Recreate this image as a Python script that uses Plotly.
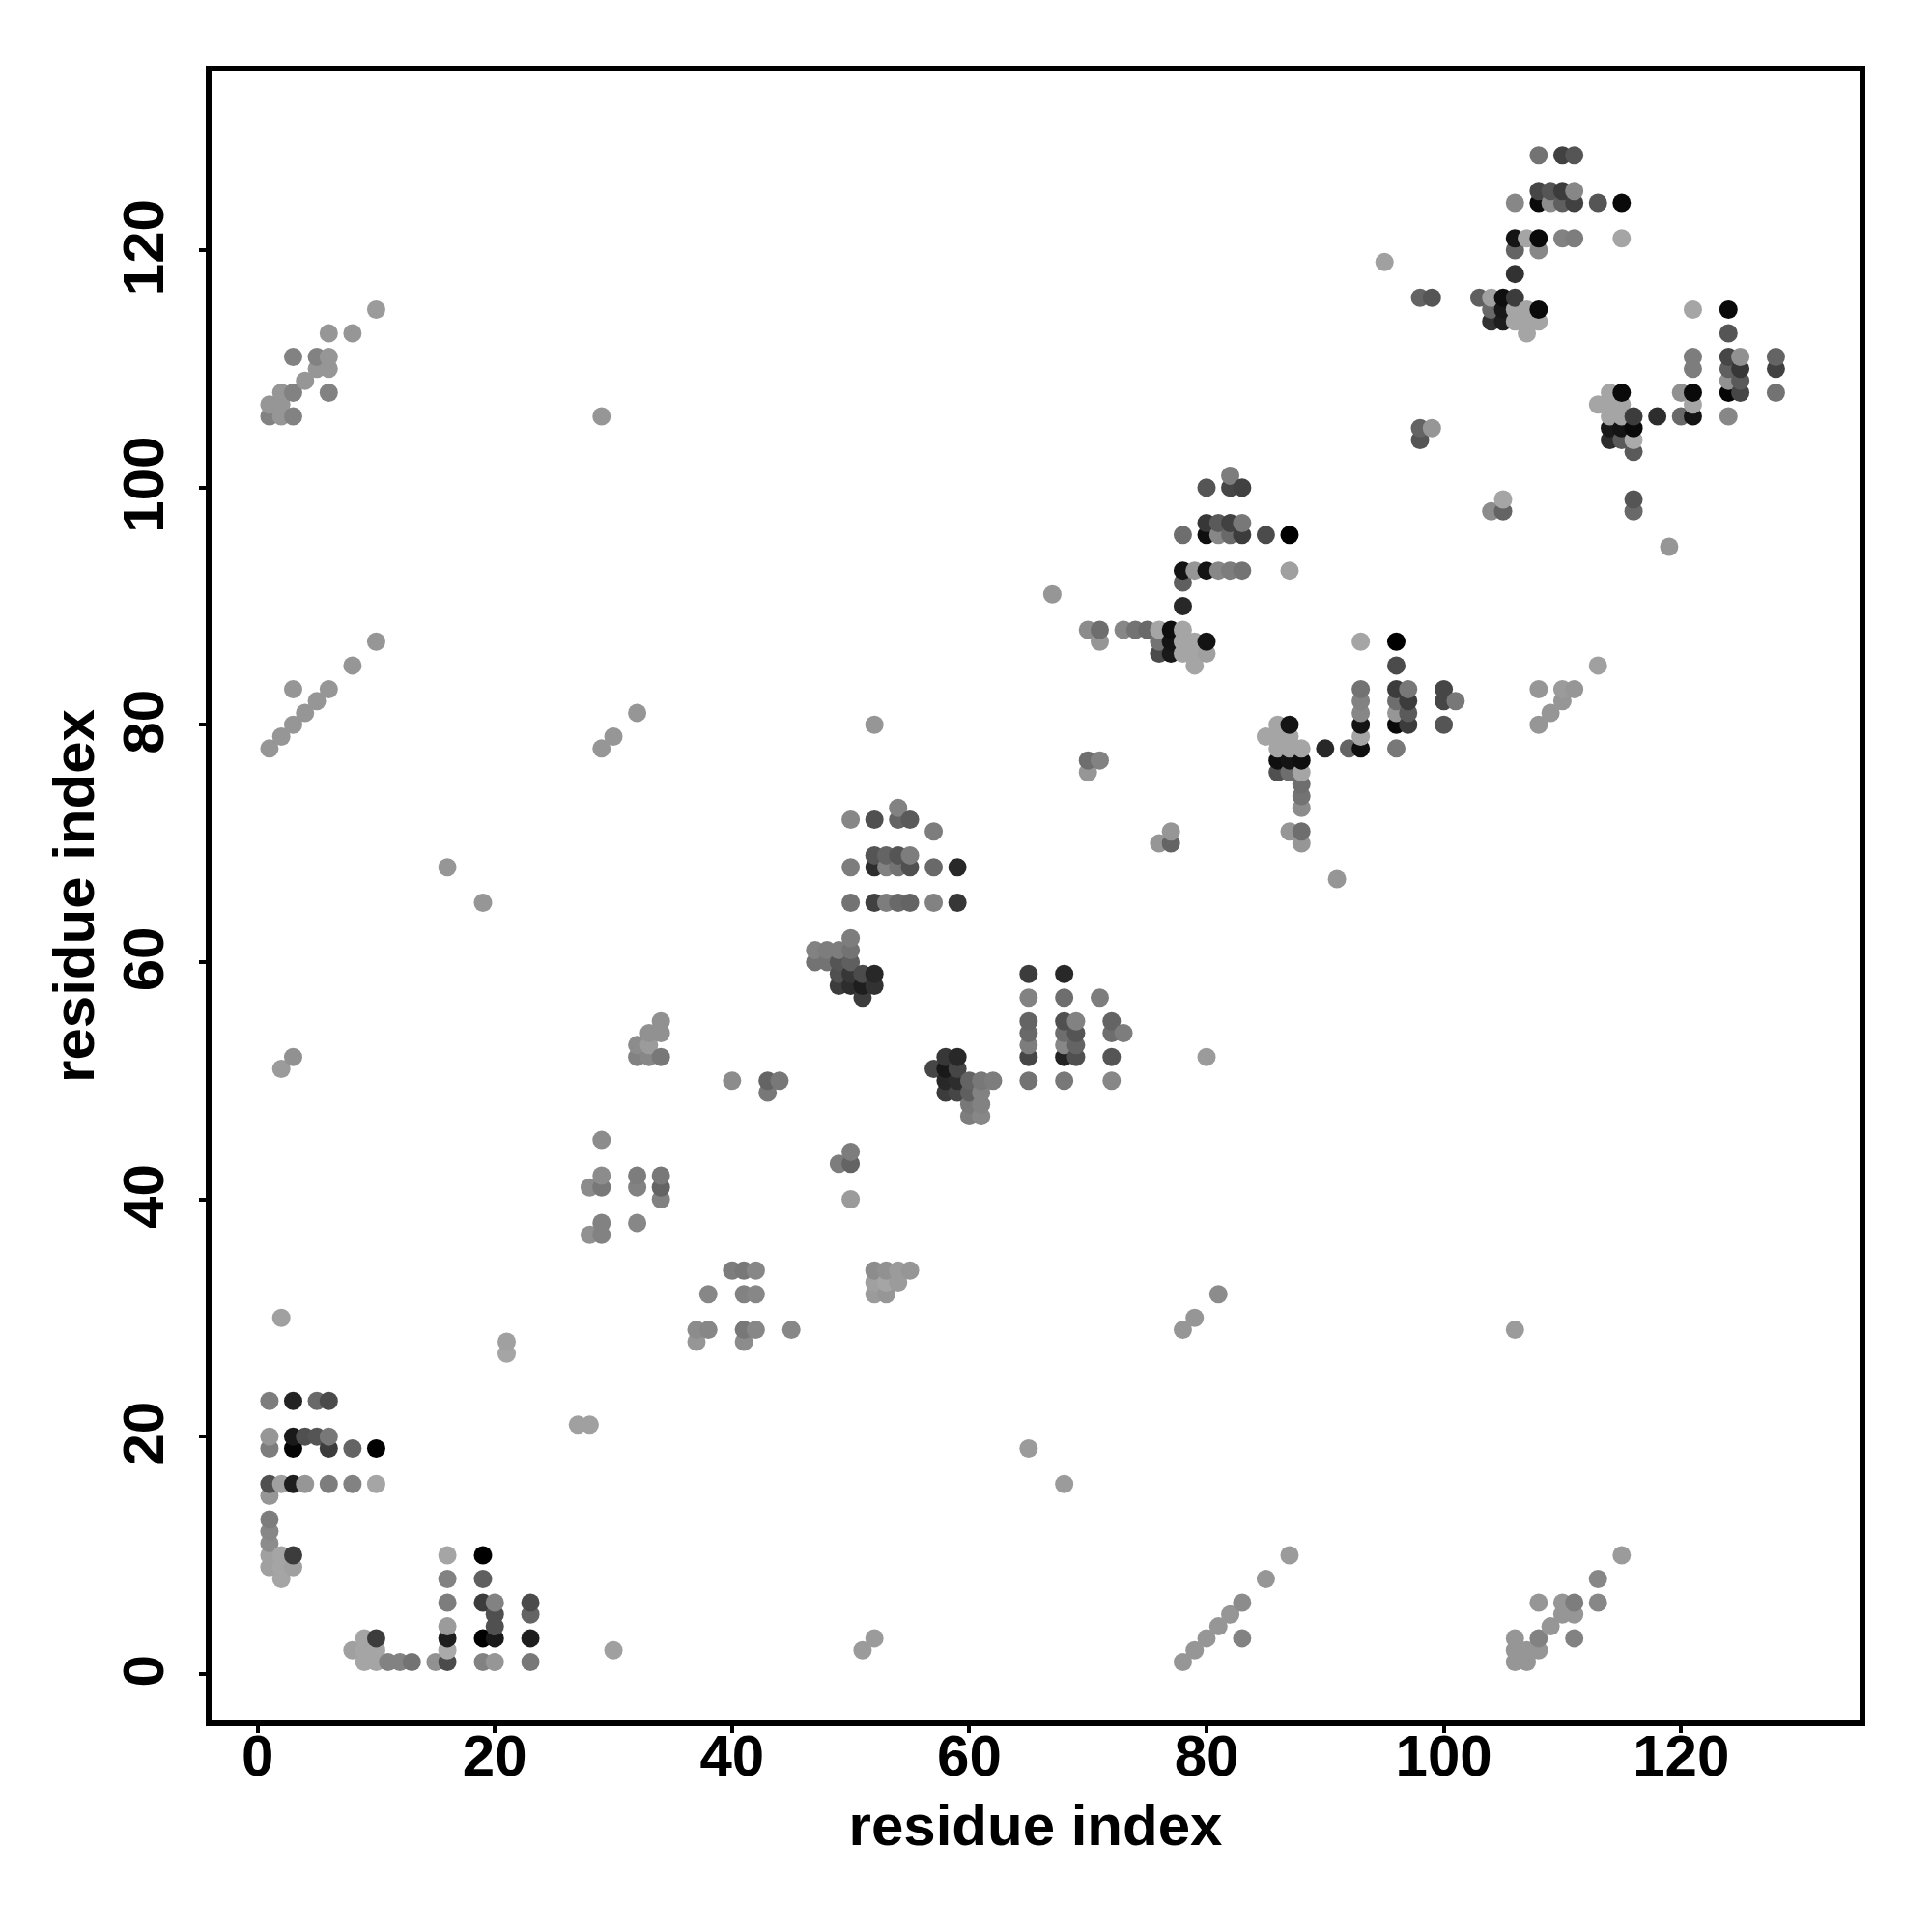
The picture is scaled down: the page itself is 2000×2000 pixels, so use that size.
import plotly.graph_objects as go

residue_i = [
 2,21,21,1,3,5,6,1,1,3,3,4,5,6,6,8,10,27,28,1,2,3,4,6,8,10,1,1,1,1,1,2,3,1,2,3,2,
 16,19,16,19,16,19,20,20,20,23,23,16,16,19,20,23,16,16,15,19,20,23,30,8,9,10,9,10,9,10,11,12,13,
 78,79,80,81,82,83,83,85,87,
 106,106,106,107,107,108,108,108,109,110,110,111,111,111,113,113,115,
 51,52,65,68,106,78,79,81,
 37,37,38,38,40,41,42,41,42,41,41,42,45,
 52,53,54,55,52,53,54,52,53,
 29,28,29,29,28,29,29,32,32,32,34,34,34,
 49,50,50,50,40,43,44,43,2,3,80,
 32,33,34,34,32,33,34,33,
 57,58,59,58,59,58,59,58,59,60,60,60,60,61,61,61,61,62,
 65,68,65,68,71,65,65,65,65,65,68,69,68,69,68,69,68,69,68,72,72,73,72,72,
 50,52,54,54,55,57,50,52,53,54,55,52,53,54,55,57,59,50,52,53,54,55,57,59,
 50,47,48,49,50,47,48,49,50,49,50,51,52,49,50,51,52,51,
 16,19,1,2,3,4,5,6,3,8,10,29,30,32,52,
 1,2,3,1,2,2,3,4,5,5,6,6,3,6,6,8,10,29,67,91,
 82,80,82,83,78,80,81,82,83,80,81,82,83,85,87,78,79,80,81,82,83,87,78,78,
 70,71,71,73,74,75,76,76,76,77,77,77,78,78,78,79,79,79,80,80,
 93,96,96,93,93,93,93,93,93,92,90,96,97,96,97,96,97,96,97,96,100,100,101,100,
 85,86,87,86,87,86,87,88,86,87,88,86,87,88,88,88,88,87,88,88,
 70,70,71,76,77,77,
 108,110,111,113,110,109,108,105,104,105,116,116,98,98,99,
 108,110,111,106,108,109,110,111,108,109,110,111,113,115,106,107,108,110,111,115,106,108,106,
 103,104,105,106,104,105,106,107,108,104,105,106,107,108,107,98,99,95,119,
 121,124,124,121,121,124,125,124,125,124,125,124,125,128,128,128,120,121,121,120,121,124,118,
 113,114,115,114,115,114,115,116,114,115,116,114,115,116,116,
]
residue_j = [
 30,28,27,23,23,23,23,20,19,20,19,20,20,20,19,19,19,21,21,16,16,16,16,16,16,16,15,13,12,11,10,10,10,9,9,9,8,
 10,10,8,8,6,6,6,5,4,6,5,4,3,3,3,3,2,1,1,1,1,1,2,2,3,3,2,2,1,1,1,1,1,
 1,2,3,4,5,6,3,8,10,
 3,2,1,2,1,3,2,6,4,5,6,6,5,3,8,6,10,
 2,3,19,16,29,29,30,32,
 28,29,29,32,34,34,34,32,32,29,28,29,29,
 34,34,34,34,33,33,33,32,32,
 45,41,42,41,37,38,37,42,41,38,42,41,40,
 43,43,44,40,50,50,50,49,51,52,52,
 53,54,55,54,52,52,52,53,
 51,52,52,51,51,50,50,49,49,50,49,48,47,50,49,48,47,50,
 59,59,57,57,57,55,54,53,52,50,55,55,54,54,53,53,52,52,50,55,54,54,52,50,
 72,72,73,72,72,71,68,69,69,69,69,68,68,68,68,68,68,65,65,65,65,65,65,65,
 62,61,61,61,61,60,60,60,60,59,59,59,59,58,58,58,58,57,
 68,65,78,79,80,81,82,83,83,85,87,78,79,81,80,
 106,106,106,107,107,108,108,109,110,111,111,110,111,108,113,113,115,106,91,67,
 101,100,100,100,96,97,97,97,97,96,96,96,96,96,96,93,93,93,93,93,93,93,92,90,
 88,88,87,88,88,88,88,87,86,88,87,86,88,87,86,87,86,85,87,86,
 87,87,85,83,82,81,80,79,78,78,78,83,83,82,82,81,81,80,80,78,83,82,82,80,
 79,80,80,79,79,78,78,78,77,77,77,76,76,76,75,74,73,71,71,70,
 76,77,77,70,70,71,
 83,83,83,85,82,81,80,99,98,98,99,98,105,104,105,
 128,128,128,124,125,125,125,125,124,124,124,124,124,124,121,121,121,121,121,121,120,120,118,
 116,116,116,116,115,115,115,115,115,114,114,114,114,114,113,116,116,119,95,
 115,115,113,111,110,111,111,110,110,109,109,108,108,111,110,108,108,108,107,106,106,106,106,
 107,108,108,107,107,106,106,106,105,105,105,104,104,104,103,
]
gray_level = [
 160,160,165,125,35,105,75,150,125,25,5,80,85,120,60,100,0,160,160,80,160,30,150,125,130,165,150,125,135,140,160,165,60,160,165,160,165,
 165,0,130,95,125,60,130,80,80,75,100,155,30,0,25,30,170,75,145,130,150,120,160,160,165,60,165,165,165,165,130,130,115,
 150,150,150,150,150,140,130,150,155,
 150,150,150,150,150,130,150,150,150,150,150,125,150,130,135,135,155,
 155,155,155,155,155,150,150,140,
 150,140,135,135,125,120,135,130,135,120,140,135,135,
 140,145,155,150,160,165,155,155,150,
 140,140,140,120,145,130,130,125,130,135,120,100,130,
 125,100,125,155,140,100,120,120,155,145,155,
 140,145,145,145,130,135,120,155,
 70,55,40,25,70,40,45,60,70,100,95,120,125,120,130,130,135,125,
 60,40,130,110,125,100,105,125,70,115,80,130,110,85,135,100,35,80,120,100,110,125,85,135,
 135,80,130,100,90,125,125,85,100,85,125,45,130,115,80,105,40,115,65,125,105,100,130,55,
 125,130,125,125,115,115,115,85,95,80,55,75,40,60,45,30,50,60,
 150,150,150,150,150,150,150,150,150,150,150,150,150,150,150,
 130,150,130,150,150,150,130,150,150,130,150,150,130,130,150,150,155,150,150,150,
 125,85,70,65,110,55,90,65,120,15,135,105,60,75,0,20,150,20,135,125,115,160,95,40,
 140,110,150,135,115,105,165,115,75,15,20,25,165,165,165,165,165,165,20,160,
 165,0,75,115,130,135,20,165,15,100,40,60,120,110,60,150,90,10,60,120,70,70,120,85,
 165,165,20,165,165,165,165,165,15,20,15,80,110,165,110,115,140,150,110,150,
 150,110,130,150,100,150,
 150,155,150,160,150,150,150,165,140,100,85,105,100,85,150,
 115,65,85,135,70,85,60,135,10,140,95,65,85,10,20,165,10,130,125,165,100,135,50,
 95,160,15,60,105,25,165,165,10,50,30,165,165,165,165,100,85,160,150,
 165,10,85,125,125,70,145,95,55,145,90,5,70,100,65,115,145,10,165,105,20,135,45,
 165,165,10,165,165,165,165,60,25,20,10,45,90,170,90,
]

order = sorted(range(len(residue_i)), key=lambda k: (residue_i[k], residue_j[k]))
fig = go.Figure(go.Scatter(
    x=[residue_i[k] for k in order],
    y=[residue_j[k] for k in order],
    mode="markers",
    marker=dict(size=19, color=[gray_level[k] for k in order],
                colorscale=[[0, "#000000"], [1, "#ffffff"]], cmin=0, cmax=255,
                showscale=False, line=dict(width=0)),
    showlegend=False, hoverinfo="skip",
))
axis_font = dict(family="Liberation Sans", size=60, color="black", weight="bold")
axis_common = dict(
    tickmode="array", tickvals=[0, 20, 40, 60, 80, 100, 120],
    ticktext=["0", "20", "40", "60", "80", "100", "120"],
    ticks="outside", ticklen=7, tickwidth=4, tickcolor="black",
    showline=True, linewidth=6, linecolor="black", mirror=True,
    showgrid=False, zeroline=False,
    tickfont=axis_font,
)
fig.update_xaxes(range=[-3.88, 135.05], ticklabelstandoff=-28,
                 title=dict(text="residue index", font=axis_font, standoff=20), **axis_common)
fig.update_yaxes(range=[-3.93, 135.07], tickangle=-90, ticklabelstandoff=13, ticklabelshift=6,
                 title=dict(text="residue index", font=axis_font, standoff=0), **axis_common)
fig.update_layout(width=2000, height=2000, autosize=False, plot_bgcolor="white", paper_bgcolor="white",
                  margin=dict(l=219, r=75, t=74, b=219, autoexpand=False))
assert len(residue_i) == len(residue_j) == len(gray_level)
fig.write_html("out.html", config={"displayModeBar": False},
               post_script="document.body.style.margin='0';")
